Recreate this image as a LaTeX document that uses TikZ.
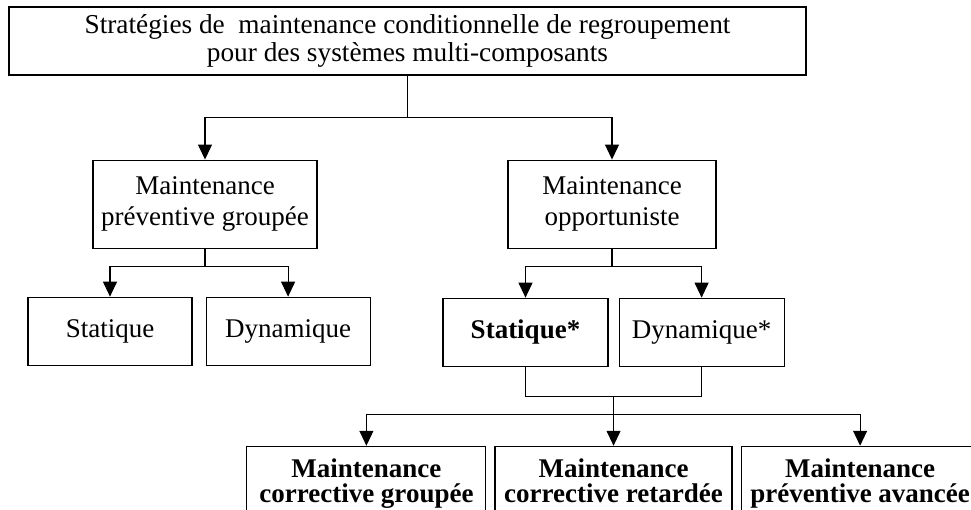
\documentclass[tikz,border=0pt]{standalone}
\usepackage{fontspec}
\setmainfont{Liberation Serif}
\usetikzlibrary{positioning,arrows.meta,calc}

\begin{document}
\begin{tikzpicture}[x=1pt, y=-1pt,
    block/.style={rectangle, draw=black, line width=1.1pt, align=center, inner sep=0pt, font=\fontsize{27pt}{31pt}\selectfont},
    leaf/.style={block, minimum width=164pt, minimum height=68pt},
    action/.style={block, minimum height=76pt, font=\bfseries\fontsize{27pt}{25pt}\selectfont, execute at end node=\strut},
    link/.style={line width=1.1pt},
    arrow/.style={link, -{Triangle[width=14pt,length=15pt]}}
  ]
  \path[use as bounding box, clip] (0,0) rectangle (971,510);

  \node[block, minimum width=797pt, minimum height=68pt, font=\fontsize{27.3pt}{28pt}\selectfont] (top) at (407.5,41) {Stratégies de \ maintenance conditionnelle de regroupement\\pour des systèmes multi-composants};

  \node[block, minimum width=224pt, minimum height=88pt, below=84pt of top, xshift=-202.5pt] (grouped) {Maintenance\\préventive groupée};
  \node[block, minimum width=208pt, minimum height=88pt, below=84pt of top, xshift=204.5pt] (opport) {Maintenance\\opportuniste};

  \node[leaf, below=48pt of grouped, xshift=-95pt] (gstat) {Statique};
  \node[leaf, right=13pt of gstat] (gdyn) {Dynamique};
  \node[leaf, minimum width=165pt, below=49pt of opport, xshift=-86.5pt] (ostat) {\textbf{Statique*}};
  \node[leaf, minimum width=165pt, right=10pt of ostat] (odyn) {Dynamique*};

  \node[action, minimum width=237pt, below=79pt of ostat, xshift=88pt] (retard) {Maintenance\\corrective retardée};
  \node[action, minimum width=239pt, left=8pt of retard] (corgr) {Maintenance\\corrective groupée};
  \node[action, minimum width=238pt, right=8pt of retard] (avance) {Maintenance\\préventive avancée};

  % top level split
  \draw[arrow] (top.south) -- ++(0,-42pt) -| (grouped.north);
  \draw[arrow] (top.south) -- ++(0,-42pt) -| (opport.north);

  \draw[arrow] (grouped.south) -- ++(0,-18pt) -| (gstat.north);
  \draw[arrow] (grouped.south) -- ++(0,-18pt) -| (gdyn.north);
  \draw[arrow] (opport.south) -- ++(0,-18pt) -| (ostat.north);
  \draw[arrow] (opport.south) -- ++(0,-18pt) -| (odyn.north);

  % both opportunistic variants lead to the three actions
  \draw[link] (ostat.south) -- ++(0,-30pt) -| (odyn.south);
  \coordinate (join) at ($(ostat.south)!0.5!(odyn.south) + (0,-30pt)$);
  \draw[arrow] (join) -- ++(0,-18pt) -| (corgr.north);
  \draw[arrow] (join) -- (join |- retard.north);
  \draw[arrow] (join) -- ++(0,-18pt) -| (avance.north);
\end{tikzpicture}
\end{document}
